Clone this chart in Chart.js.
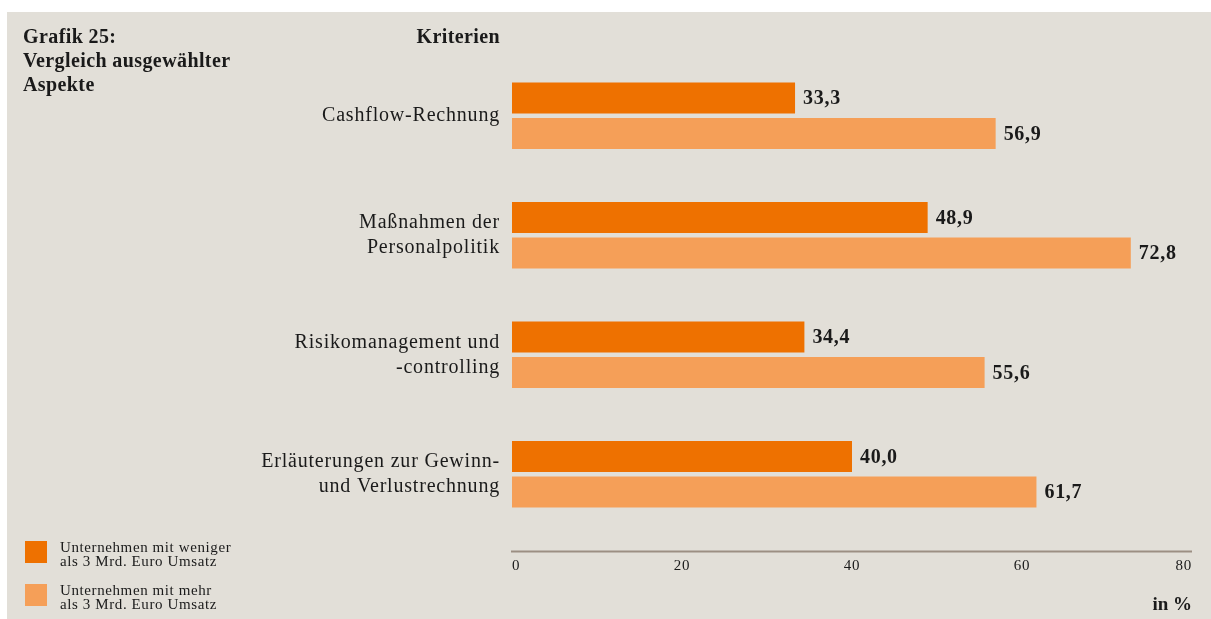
<!DOCTYPE html>
<html><head><meta charset="utf-8">
<script src="https://cdn.jsdelivr.net/npm/chart.js@4.4.1/dist/chart.umd.min.js"></script>
<style>
html,body{margin:0;padding:0;background:#fff;}
#wrap{position:relative;width:1211px;height:619px;overflow:hidden;}
#bg{position:absolute;left:7px;top:12px;right:0;bottom:0;background:#E2DFD8;}
canvas{position:absolute;left:0;top:0;}
.t{position:absolute;font-family:"Liberation Serif","Times New Roman",serif;color:#1a1a1a;white-space:nowrap;}
.b{font-weight:bold;}
.sw{position:absolute;width:22px;height:22px;}
</style></head>
<body><div id="wrap"><div id="bg"></div>
<canvas id="c" width="1211" height="619"></canvas>
<div class="t b" style="left:23px;top:24px;font-size:20px;line-height:24px;letter-spacing:0.4px;">Grafik 25:<br>Vergleich ausgewählter<br>Aspekte</div>
<div class="t b" style="right:711px;top:24px;font-size:20px;line-height:24px;letter-spacing:0.4px;">Kriterien</div>
<div class="sw" style="left:25px;top:541px;background:#EE7100;"></div>
<div class="sw" style="left:25px;top:584px;background:#F59F58;"></div>
<div class="t" style="left:60px;top:540px;font-size:15px;line-height:14px;letter-spacing:0.6px;" id="lg1"></div>
<div class="t" style="left:60px;top:583px;font-size:15px;line-height:14px;letter-spacing:0.6px;" id="lg2"></div>
<div class="t b" style="right:19px;top:593px;font-size:19px;line-height:22px;">in %</div>
</div>
<script>
// ---- data ----
const categories = [
  ['Cashflow-Rechnung'],
  ['Maßnahmen der', 'Personalpolitik'],
  ['Risikomanagement und', '-controlling'],
  ['Erläuterungen zur Gewinn-', 'und Verlustrechnung']
];
const seriesNames = [
  ['Unternehmen mit weniger', 'als 3 Mrd. Euro Umsatz'],
  ['Unternehmen mit mehr', 'als 3 Mrd. Euro Umsatz']
];
const smallCompanies = [33.3, 48.9, 34.4, 40.0];
const largeCompanies = [56.9, 72.8, 55.6, 61.7];
const xTicks = [0, 20, 40, 60, 80];

document.getElementById('lg1').innerHTML = seriesNames[0].join('<br>');
document.getElementById('lg2').innerHTML = seriesNames[1].join('<br>');

const FONT = '"Liberation Serif","Times New Roman",serif';

const valueLabels = {
  id: 'valueLabels',
  afterDatasetsDraw(chart) {
    const ctx = chart.ctx;
    ctx.save();
    ctx.letterSpacing = '0.7px';
    ctx.font = 'bold 20px ' + FONT;
    ctx.fillStyle = '#1a1a1a';
    ctx.textAlign = 'left';
    ctx.textBaseline = 'middle';
    chart.data.datasets.forEach((ds, di) => {
      const meta = chart.getDatasetMeta(di);
      meta.data.forEach((el, i) => {
        const txt = ds.data[i].toFixed(1).replace('.', ',');
        ctx.fillText(txt, el.x + 8, el.y + 1);
      });
    });
    ctx.restore();
  }
};

const axisLine = {
  id: 'axisLine',
  beforeDraw(chart) {
    chart.ctx.letterSpacing = '0.8px';
  },
  afterDraw(chart) {
    const ctx = chart.ctx;
    const xs = chart.scales.x;
    const y = chart.chartArea.bottom + 17.5;
    ctx.save();
    ctx.strokeStyle = '#9C8F83';
    ctx.lineWidth = 2;
    ctx.beginPath();
    ctx.moveTo(xs.getPixelForValue(xTicks[0]) - 1, y);
    ctx.lineTo(xs.getPixelForValue(xTicks[xTicks.length - 1]), y);
    ctx.stroke();
    ctx.restore();
  }
};

new Chart(document.getElementById('c'), {
  type: 'bar',
  data: {
    labels: categories,
    datasets: [
      { label: seriesNames[0].join(' '), data: smallCompanies, backgroundColor: '#EE7100' },
      { label: seriesNames[1].join(' '), data: largeCompanies, backgroundColor: '#F59F58' }
    ]
  },
  options: {
    indexAxis: 'y',
    responsive: false,
    animation: false,
    devicePixelRatio: 1,
    categoryPercentage: 0.591,
    barPercentage: 0.878,
    layout: { padding: { left: 0, right: 19, top: 56, bottom: 0 } },
    plugins: { legend: { display: false }, tooltip: { enabled: false } },
    scales: {
      y: {
        grid: { display: false, drawTicks: false },
        border: { display: false },
        afterFit(s) { s.width = 512; s.paddingTop = 0; s.paddingBottom = 0; },
        ticks: {
          padding: 12,
          color: '#1a1a1a',
          font: { family: FONT, size: 20, lineHeight: 1.25 }
        }
      },
      x: {
        min: 0, max: 80,
        grid: { display: false, drawTicks: false },
        border: { display: false },
        afterFit(s) { s.height = 85; s.paddingLeft = 0; s.paddingRight = 0; },
        afterBuildTicks(s) { s.ticks = xTicks.map(v => ({ value: v })); },
        ticks: {
          align: 'inner',
          padding: 23,
          color: '#1a1a1a',
          font: { family: FONT, size: 15 }
        }
      }
    }
  },
  plugins: [valueLabels, axisLine]
});
</script>
</body></html>
